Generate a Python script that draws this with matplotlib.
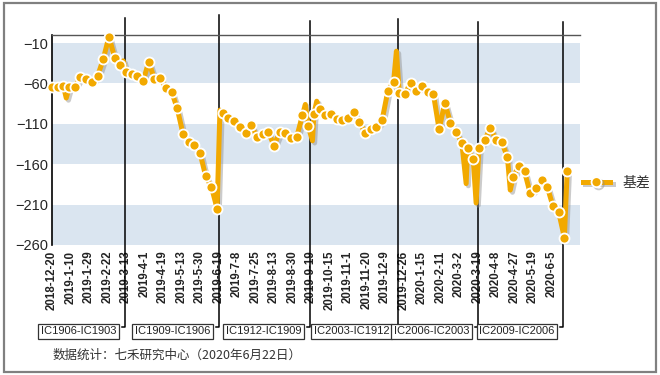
import numpy as np
import matplotlib
matplotlib.use("Agg")
import matplotlib.pyplot as plt
import matplotlib.patheffects as pe
import matplotlib.transforms as mtransforms
from matplotlib.lines import Line2D
from matplotlib.patches import Rectangle

plt.rcParams['font.family'] = ['Liberation Sans', 'Noto Sans CJK SC', 'DejaVu Sans']

# trading-day index of each marked point, and the basis value
marker_day = list(range(0, 361, 4)) + [362]
marker_val = [-64, -64, -63, -65, -64, -52, -55, -58, -51, -30,
              -2, -28, -37, -46, -48, -51, -57, -33, -55, -53,
              -66, -70, -91, -122, -132, -136, -146, -175, -188, -215,
              -96, -103, -107, -114, -121, -112, -126, -122, -120, -137,
              -120, -121, -128, -126, -99, -113, -98, -92, -99, -98,
              -104, -105, -103, -95, -108, -121, -117, -114, -105, -69,
              -58, -72, -73, -59, -69, -63, -70, -73, -117, -84,
              -109, -120, -134, -140, -154, -140, -130, -115, -130, -133,
              -151, -176, -162, -169, -196, -190, -180, -188, -212, -219,
              -251, -168]

# days between markers where the line spikes (no marker drawn)
spike_day = [10, 50, 118, 178, 183, 186, 242, 291, 298, 322]
spike_val = [-78, -32, -93, -86, -131, -82, -20, -184, -208, -192]

tick_labels = ['2018-12-20', '2019-1-10', '2019-1-29', '2019-2-22', '2019-3-13',
               '2019-4-1', '2019-4-19', '2019-5-13', '2019-5-30', '2019-6-19',
               '2019-7-8', '2019-7-25', '2019-8-13', '2019-8-30', '2019-9-19',
               '2019-10-15', '2019-11-1', '2019-11-20', '2019-12-9', '2019-12-26',
               '2020-1-15', '2020-2-11', '2020-3-2', '2020-3-19', '2020-4-8',
               '2020-4-27', '2020-5-19', '2020-6-5']
tick_step = 13

roll_day = [51, 117, 181, 243, 299, 359]
roll_label = ['IC1906-IC1903', 'IC1909-IC1906', 'IC1912-IC1909',
              'IC2003-IC1912', 'IC2006-IC2003', 'IC2009-IC2006']
roll_top = [1.081, 1.095, 1.067, 1.076, 1.062, 1.062]

orange = '#F2A900'
band = '#DAE5F0'

fig = plt.figure(figsize=(6.6, 3.75), dpi=100)
fig.patches.append(Rectangle((0.006, 0.008), 0.988, 0.984, transform=fig.transFigure,
                             fill=False, ec='#808080', lw=1.6, zorder=0))
ax = fig.add_axes([0.0788, 0.3467, 0.8, 0.56])

for lo, hi in [(-60, -10), (-160, -110), (-260, -210)]:
    ax.axhspan(lo, hi, color=band, lw=0, zorder=0)

# line through markers and spikes
days = np.array(marker_day + spike_day)
vals = np.array(marker_val + spike_val)
order = np.argsort(days)
shadow = [pe.SimpleLineShadow(offset=(1.6, -1.6), shadow_color='#8c8c8c', alpha=0.45),
          pe.Normal()]
ax.plot(days[order], vals[order], color=orange, lw=3.6, solid_joinstyle='round',
        path_effects=shadow, zorder=3)
ax.plot(marker_day, marker_val, ls='none', marker='o', ms=7.2, mfc=orange,
        mec='white', mew=1.3, zorder=4, clip_on=False)

ax.set_xlim(0, 371)
ax.set_ylim(-260, 0)
ax.set_yticks([-10, -60, -110, -160, -210, -260])
ax.tick_params(axis='y', length=0, pad=3, labelsize=10.5, labelcolor='#262626')
ax.set_xticks(np.arange(len(tick_labels)) * tick_step)
ax.set_xticklabels(tick_labels, rotation=90, fontsize=8.3, fontweight='bold', color='#222222')
ax.tick_params(axis='x', length=0, pad=4)

for s in ['right', 'bottom']:
    ax.spines[s].set_visible(False)
ax.spines['left'].set_color('black')
ax.spines['left'].set_linewidth(1.2)
ax.spines['top'].set_color('#555555')
ax.spines['top'].set_linewidth(1.0)

# contract roll markers with callout boxes
blend = mtransforms.blended_transform_factory(ax.transData, ax.transAxes)
bot = -0.39
for d, lab, top in zip(roll_day, roll_label, roll_top):
    ax.plot([d, d, d - 2], [top, bot, bot], color='black', lw=1.1, transform=blend,
            clip_on=False, zorder=2)
    ax.annotate(lab, xy=(d, bot - 0.02), xycoords=blend, xytext=(-6, 0),
                textcoords='offset points', ha='right', va='center', fontsize=8,
                color='#222222',
                bbox=dict(boxstyle='square,pad=0.22', fc='white', ec='#333333', lw=0.9))

handle = Line2D([], [], color=orange, lw=3.6, marker='o', ms=7.2, mfc=orange,
                mec='white', mew=1.3, path_effects=shadow)
leg = ax.legend([handle], ['基差'], loc='center left', bbox_to_anchor=(1.005, 0.295),
                frameon=False, handlelength=2.0, handletextpad=0.9, borderpad=0,
                borderaxespad=0, prop={'family': ['Noto Sans CJK SC'], 'size': 10})
for t in leg.get_texts():
    t.set_color('#333333')

fig.text(0.079, 0.053, '数据统计：七禾研究中心（2020年6月22日）', fontsize=9,
         color='#333333', family=['Noto Sans CJK SC', 'DejaVu Sans'], va='center')

fig.savefig('out.png', dpi=100)
